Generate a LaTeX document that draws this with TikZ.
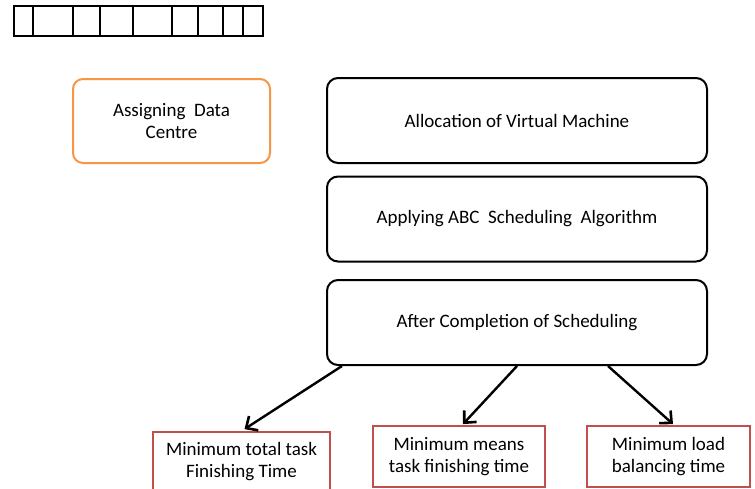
\documentclass[tikz,border=0pt]{standalone}
\usepackage{fontspec}
\setmainfont{Carlito}
\usetikzlibrary{arrows.meta,calc}
\definecolor{boxorange}{HTML}{F79646}
\definecolor{boxred}{HTML}{C0504D}
\tikzset{
  stage/.style={draw=black, line width=2pt, rounded corners=11pt, fill=white,
    minimum width=380pt, minimum height=85pt, align=center, inner sep=0pt},
  datacentre/.style={draw=boxorange, line width=2pt, rounded corners=10pt,
    minimum width=197pt, minimum height=84pt, align=center, inner sep=0pt},
  result/.style={draw=boxred, line width=1.8pt, align=center, inner sep=0pt},
  flow/.style={line width=2.4pt, -{Straight Barb[length=9pt,width=17pt,line width=2.6pt]}},
  cell/.style={draw=black, line width=2.4pt}
}
\begin{document}
\begin{tikzpicture}[x=1pt, y=-1pt, font=\fontsize{19}{22}\selectfont]
\useasboundingbox (0,0) rectangle (755,488);
\clip (0,0) rectangle (755,488);
\fill[white] (0,0) rectangle (755,488);

% strip of cells at the top
\draw[cell] (14,6) rectangle (263,36);
\foreach \xc in {33,73,100,133,172,198,223,243}
  \draw[cell] (\xc,6) -- (\xc,36);

% data centre box
\node[datacentre] (dc) at (171.5,121) {Assigning\ \ Data\\Centre};

% main stages
\node[stage] (vm)  at (517,120.5) {Allocation of Virtual Machine};
\node[stage] (abc) at (517,219)   {Applying ABC\ \ Scheduling\ \ Algorithm};
\node[stage] (fin) at (517,322.5) {After Completion of Scheduling};

% result boxes (the first one runs past the lower edge)
\node[result, minimum width=177pt, minimum height=60pt] (r1) at (241.5,462) {Minimum total task\\Finishing Time};
\node[result, minimum width=172pt, minimum height=61pt] (r2) at (459,456.5) {Minimum means\\task finishing time};
\node[result, minimum width=163pt, minimum height=61pt] (r3) at (668.5,456.5) {Minimum load\\balancing time};

% connectors leaving the last stage
\coordinate (o1) at ($(fin.south west)+(16,0)$);
\coordinate (o2) at (fin.south);
\coordinate (o3) at ($(fin.south)+(91,0)$);
\coordinate (t1) at ($(r1.north)+(3,-2)$);
\coordinate (t2) at ($(r2.north)+(4,-1)$);
\coordinate (t3) at ($(r3.north)+(4.5,-1)$);
\draw[flow] (o1) -- (t1);
\draw[flow] (o2) -- (t2);
\draw[flow] (o3) -- (t3);
\end{tikzpicture}
\end{document}
